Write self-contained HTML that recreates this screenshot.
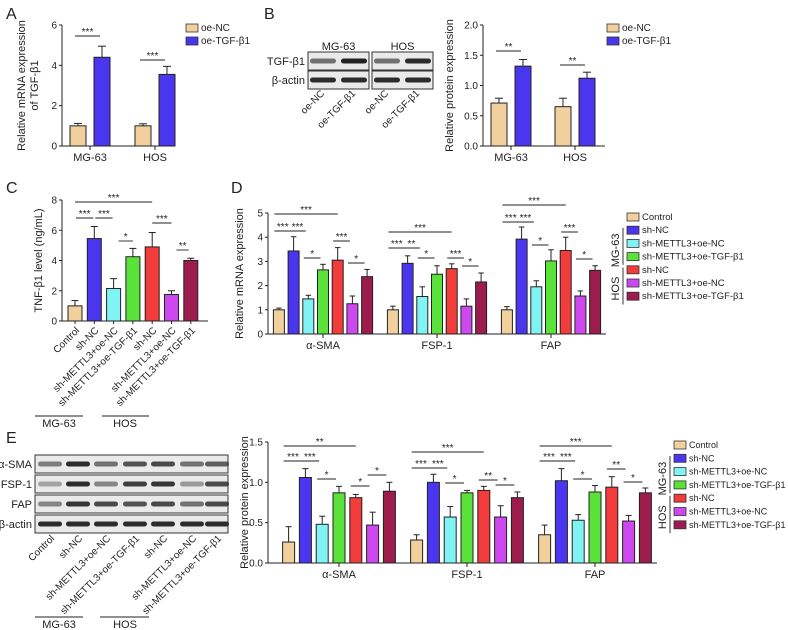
<!DOCTYPE html>
<html><head><meta charset="utf-8"><style>
html,body{margin:0;padding:0;background:#fff;}
svg{display:block;font-family:"Liberation Sans",Arial,sans-serif;}
</style></head><body>
<svg id="fig" width="788" height="630" viewBox="0 0 788 630" xmlns="http://www.w3.org/2000/svg"></svg>
<script>
// ---------- data ----------
const abGroups = ["MG-63","HOS"];
const abSeries = ["oe-NC","oe-TGF-β1"];
const aVals = [[1.0,4.4],[1.0,3.55]];
const aErrs = [[1.12,4.95],[1.1,3.95]];
const bVals = [[0.71,1.32],[0.65,1.12]];
const bErrs = [[0.79,1.43],[0.79,1.22]];
const aTicks = [0,2,4,6];
const bTicks = ["0.0","0.5","1.0","1.5","2.0"];
const sevenLabels = ["Control","sh-NC","sh-METTL3+oe-NC","sh-METTL3+oe-TGF-β1","sh-NC","sh-METTL3+oe-NC","sh-METTL3+oe-TGF-β1"];
const cVals = [1.0,5.45,2.15,4.25,4.9,1.75,4.0];
const cErrs = [1.35,6.25,2.8,4.8,5.85,2.0,4.15];
const cTicks = [0,2,4,6,8];
const markers = ["α-SMA","FSP-1","FAP"];
const dVals = [[1.0,3.43,1.45,2.65,3.05,1.25,2.37],[1.0,2.92,1.55,2.47,2.7,1.15,2.15],[1.0,3.92,1.95,3.02,3.45,1.57,2.63]];
const dErrs = [[1.07,4.02,1.6,2.88,3.57,1.57,2.67],[1.15,3.23,1.95,2.82,2.9,1.45,2.52],[1.13,4.42,2.2,3.48,4.0,1.78,2.82]];
const dTicks = [0,1,2,3,4,5];
const eVals = [[0.26,1.06,0.48,0.87,0.81,0.47,0.89],[0.285,1.0,0.57,0.87,0.9,0.57,0.81],[0.35,1.02,0.53,0.88,0.94,0.52,0.87]];
const eErrs = [[0.45,1.17,0.58,0.95,0.85,0.63,1.0],[0.35,1.1,0.7,0.9,0.95,0.71,0.88],[0.47,1.17,0.6,0.96,1.07,0.59,0.93]];
const eTicks = ["0.0","0.5","1.0","1.5"];
const colors = ["#F2D09E","#4A36EE","#80F4F4","#5BE23A","#F23B3B","#CE48F0","#9C1C4E"];
const twoColors = ["#F2D09E","#4A36EE"];

const svg = document.getElementById('fig');
const NS = "http://www.w3.org/2000/svg";
function mk(tag, at, parent){ const e=document.createElementNS(NS,tag); for(const k in at) e.setAttribute(k,at[k]); (parent||svg).appendChild(e); return e; }
function txt(x,y,s,size,anchor,parent,extra){ const t=mk('text',Object.assign({x:x,y:y,'font-size':size,'text-anchor':anchor||'start',fill:'#222'},extra||{}),parent); t.textContent=s; return t; }
function line(x1,y1,x2,y2,parent,w){ return mk('line',{x1:x1,y1:y1,x2:x2,y2:y2,stroke:'#222','stroke-width':w||1},parent); }

function yAxis(g,x,y0,yTop,ticks,maxV,labelX,lines){
  const sy=v=>y0-(v/maxV)*(y0-yTop);
  line(x,y0,x,yTop,g);
  ticks.forEach(t=>{const v=parseFloat(t); const y=sy(v); line(x-3,y,x,y,g); const tt=txt(x-5,y+3.5,String(t),10,'end',g);
     });
  lines.forEach((s,i)=>{const lx=labelX+i*13; const t=txt(lx,(y0+yTop)/2,s,11,'middle',g,{transform:`rotate(-90 ${lx} ${(y0+yTop)/2})`});
     });
  return sy;
}
function bar(g,cx,w,y0,yv,ye,col){
  line(cx,yv,cx,ye,g); line(cx-w/4,ye,cx+w/4,ye,g);
  const r=mk('rect',{x:cx-w/2,y:yv,width:w,height:y0-yv,fill:col,stroke:'#222','stroke-width':1},g);
   
}
function sig(g,x1,x2,y,s){ line(x1,y,x2,y,g,0.9); const t=txt((x1+x2)/2,y-1,s,10,'middle',g);
    }
function legend(g,x,y,dy,labels,cols,size){
  labels.forEach((l,i)=>{const r=mk('rect',{x:x,y:y+i*dy-7,width:12,height:8,fill:cols[i],stroke:'#333','stroke-width':0.8},g);
     
    const t=txt(x+15,y+i*dy,l,size||10,'start',g);  });
}
function panelLetter(x,y,s){ const t=txt(x,y,s,16,'start');   }

panelLetter(6,19,'A'); panelLetter(264,19,'B'); panelLetter(6,193,'C'); panelLetter(231,193,'D'); panelLetter(6,443,'E');

// ---------- Panel A & B ----------
function twoGroup(name,x0,xEnd,vals,errs,ticks,maxV,labelX,labelLines,centers,sigs,legX){
  const g=mk('g',{});  
  const y0=146, yTop=25;
  const sy=yAxis(g,x0,y0,yTop,ticks,maxV,labelX,labelLines);
  line(x0,y0,xEnd,y0,g);
  abGroups.forEach((gr,gi)=>{
    const c=centers[gi]; line(c,y0,c,y0+4,g);
    const t=txt(c,y0+15,gr,11,'middle',g);  
    [0,1].forEach(si=>{const cx=c+(si===0?-12:12); bar(g,cx,16,y0,sy(vals[gi][si]),sy(errs[gi][si]),twoColors[si]);});
    sig(g,c-15,c+10,sigs[gi][0],sigs[gi][1]);
  });
  legend(g,legX,31,13,abSeries,twoColors,10);
}
twoGroup('chart-a-mrna',62,175,aVals,aErrs,aTicks,6,25,['Relative mRNA expression','of TGF-β1'],[90,155],[[36,'***'],[60,'***']],186);
twoGroup('chart-b-protein',483,605,bVals,bErrs,bTicks,2,453,['Relative protein expression'],[511,575],[[51,'**'],[65,'**']],607);

// ---------- Blot B ----------
(function(){
  const g=mk('g',{});  
  const boxes=[[308,369,'MG-63'],[372,433,'HOS']];
  const tgfInt=[[0.6,1.0],[0.6,0.95]];
  boxes.forEach((b,bi)=>{
    const t=txt((b[0]+b[1])/2,50,b[2],11,'middle',g);  
    [[52,70],[71,89]].forEach((r,ri)=>{
      mk('rect',{x:b[0],y:r[0],width:b[1]-b[0],height:r[1]-r[0],fill:'#eaeaea',stroke:'#333','stroke-width':1},g);
      [0,1].forEach(li=>{const cx=b[0]+15+li*31; const op=ri===1?0.95:tgfInt[bi][li];
        mk('rect',{x:cx-13,y:(r[0]+r[1])/2-2.5,width:26,height:5,rx:2.5,fill:'#222',opacity:op},g);});
    });
    ['oe-NC','oe-TGF-β1'].forEach((l,li)=>{const x=b[0]+17+li*31, y=94;
      const t=txt(x,y,l,10,'end',g,{transform:`rotate(-45 ${x} ${y})`});  });
  });
  txt(305,65,'TGF-β1',11,'end',g);
  txt(305,84,'β-actin',11,'end',g);
})();

// ---------- Panel C ----------
(function(){
  const g=mk('g',{});  
  const y0=321,yTop=200;
  const sy=yAxis(g,62,y0,yTop,cTicks,8,42,['TNF-β1 level (ng/mL)']);
  line(62,y0,208,y0,g);
  cVals.forEach((v,i)=>{const cx=75+19.3*i; bar(g,cx,14,y0,sy(v),sy(cErrs[i]),colors[i]); line(cx,y0,cx,y0+3,g);
    const x=cx+5,y=331; const t=txt(x,y,sevenLabels[i],10,'end',g,{transform:`rotate(-45 ${x} ${y})`});
     });
  const cx=i=>75+19.3*i;
  sig(g,cx(0),cx(4),202,'***'); sig(g,cx(0)+1,cx(1)-1,218,'***'); sig(g,cx(1)+1,cx(2)-1,218,'***');
  sig(g,cx(2)+5,cx(3),241,'*'); sig(g,cx(4),cx(5),223,'***'); sig(g,cx(5)+5,cx(6)-2,250,'**');
  line(35,416,83,416,g); line(102,416,149,416,g);
  txt(59,427,'MG-63',11,'middle',g);
  txt(125,427,'HOS',11,'middle',g);
})();

// ---------- Grouped charts D & E ----------
function grouped(name,y0,yTop,maxV,ticks,vals,errs,gStart,gStep,bStep,bw,xEnd,label,labelX,sigs,legX,legY,legDy,legSize){
  const g=mk('g',{});  
  const sy=yAxis(g,268,y0,yTop,ticks,maxV,labelX,[label]);
  line(268,y0,xEnd,y0,g);
  const bx=(gi,i)=>gStart+gi*gStep+(i-3)*bStep;
  markers.forEach((m,gi)=>{
    const c=bx(gi,3); line(c,y0,c,y0+4,g);
    const t=txt(c,y0+15,m,11,'middle',g);  
    vals[gi].forEach((v,i)=>bar(g,bx(gi,i),bw,y0,sy(v),sy(errs[gi][i]),colors[i]));
    sigs[gi].forEach(s=>{ sig(g,bx(gi,s[0])-bw/2+1,bx(gi,s[1])+ (s[1]-s[0]>1?0:-bw/2+3),s[2],s[3]); });
  });
  legend(g,legX,legY,legDy,sevenLabels,colors,legSize);
  line(legX-4,legY+legDy*0.6,legX-4,legY+legDy*3.4,g,0.9);
  line(legX-4,legY+legDy*3.6,legX-4,legY+legDy*6.4,g,0.9);
  const mx=legX-8, my=legY+legDy*2.3, hy=legY+legDy*5.2;
  txt(mx,my,'MG-63',11,'middle',g,{transform:`rotate(-90 ${mx} ${my})`});
  txt(mx,hy,'HOS',11,'middle',g,{transform:`rotate(-90 ${mx} ${hy})`});
}
grouped('chart-d-mrna',334,213,5,dTicks,dVals,dErrs,323,114,14.7,11,606,'Relative mRNA expression',243,
  [[[0,4,214,'***'],[0,1,231,'***'],[1,2,231,'***'],[2,3,258,'*'],[4,5,241,'***'],[5,6,263,'*']],
   [[0,4,232,'***'],[0,1,248,'***'],[1,2,248,'**'],[2,3,258,'*'],[4,5,258,'***'],[5,6,266,'*']],
   [[0,4,205,'***'],[0,1,222,'***'],[1,2,222,'***'],[2,3,245,'*'],[4,5,232,'***'],[5,6,259,'*']]],627,220,13.2,9.5);
grouped('chart-e-protein',563,442,1.5,eTicks,eVals,eErrs,339,128,16.8,12,657,'Relative protein expression',248,
  [[[0,4,446,'**'],[0,1,461,'***'],[1,2,461,'***'],[2,3,479,'*'],[4,5,486,'*'],[5,6,475,'*']],
   [[0,4,452,'***'],[0,1,468,'***'],[1,2,468,'***'],[2,3,483,'*'],[4,5,480,'**'],[5,6,485,'*']],
   [[0,4,446,'***'],[0,1,461,'***'],[1,2,461,'***'],[2,3,479,'*'],[4,5,469,'**'],[5,6,482,'*']]],674,448,13.3,9);

// ---------- Blot E ----------
(function(){
  const g=mk('g',{});  
  const rows=[['α-SMA',455,473,[0.55,0.95,0.6,0.75,0.8,0.6,0.7]],['FSP-1',475,493,[0.35,0.95,0.5,0.85,0.9,0.4,0.8]],
              ['FAP',495,513,[0.5,0.9,0.8,0.75,0.8,0.6,0.8]],['β-actin',515,533,[0.95,0.95,0.95,0.95,0.95,0.95,0.95]]];
  const lanes=[50,78,106,135,163,192,217];
  rows.forEach(r=>{
    mk('rect',{x:35,y:r[1],width:193,height:r[2]-r[1],fill:'#eaeaea',stroke:'#333','stroke-width':1},g);
    lanes.forEach((cx,i)=>mk('rect',{x:cx-12,y:(r[1]+r[2])/2-2.5,width:24,height:5,rx:2.5,fill:'#222',opacity:r[3][i]},g));
    const t=txt(32,(r[1]+r[2])/2+4,r[0],11,'end',g);  
  });
  lanes.forEach((cx,i)=>{const x=cx+5,y=539; const t=txt(x,y,sevenLabels[i],10,'end',g,{transform:`rotate(-45 ${x} ${y})`});
     });
  line(35,617,83,617,g); line(100,617,149,617,g);
  txt(59,628,'MG-63',11,'middle',g);
  txt(125,628,'HOS',11,'middle',g);
})();
</script>
</body></html>
